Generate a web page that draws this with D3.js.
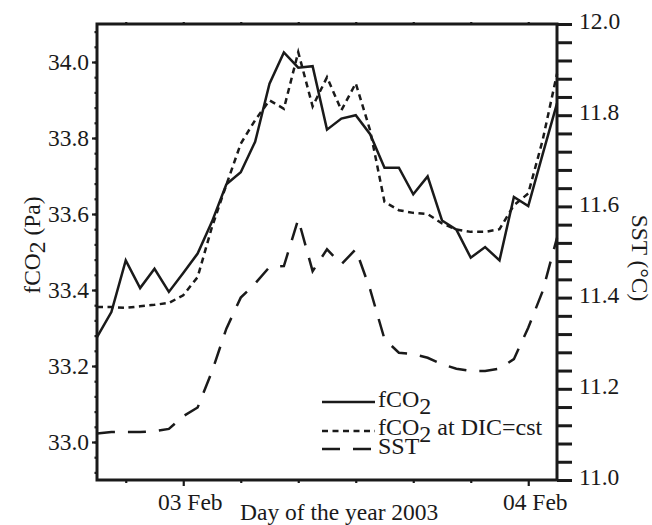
<!DOCTYPE html>
<html><head><meta charset="utf-8">
<script src="https://cdn.jsdelivr.net/npm/d3@7"></script>
<style>
html,body{margin:0;padding:0;background:#fff;}
svg, svg text, svg tspan{font-family:"Liberation Serif","Times New Roman",serif !important;}
svg text{fill:#1a1a1a;}
</style></head><body>
<svg id="chart" width="652" height="525" font-family="Liberation Serif, serif"></svg>
<script>
// ---- data (hourly samples, 2 Feb 18:00 to 4 Feb 02:00, 2003) ----
const times = [
 "2003-02-02T18:00","2003-02-02T19:00","2003-02-02T20:00","2003-02-02T21:00","2003-02-02T22:00","2003-02-02T23:00",
 "2003-02-03T00:00","2003-02-03T01:00","2003-02-03T02:00","2003-02-03T03:00","2003-02-03T04:00","2003-02-03T05:00",
 "2003-02-03T06:00","2003-02-03T07:00","2003-02-03T08:00","2003-02-03T09:00","2003-02-03T10:00","2003-02-03T11:00",
 "2003-02-03T12:00","2003-02-03T13:00","2003-02-03T14:00","2003-02-03T15:00","2003-02-03T16:00","2003-02-03T17:00",
 "2003-02-03T18:00","2003-02-03T19:00","2003-02-03T20:00","2003-02-03T21:00","2003-02-03T22:00","2003-02-03T23:00",
 "2003-02-04T00:00","2003-02-04T01:00","2003-02-04T02:00"];
const fco2 = [33.276,33.342,33.478,33.405,33.456,33.395,33.445,33.496,33.580,33.678,33.710,33.790,
 33.943,34.025,33.985,33.989,33.822,33.851,33.860,33.810,33.722,33.722,33.652,33.699,
 33.583,33.559,33.485,33.513,33.478,33.645,33.621,33.757,33.891];
const fco2Dic = [33.355,33.355,33.353,33.357,33.361,33.366,33.386,33.434,33.566,33.677,33.785,33.847,
 33.899,33.877,34.026,33.883,33.960,33.873,33.944,33.820,33.632,33.610,33.603,33.600,
 33.575,33.559,33.553,33.553,33.560,33.623,33.654,33.794,33.969];
const sst = [11.102,11.105,11.105,11.105,11.107,11.112,11.140,11.159,11.238,11.332,11.400,11.431,
 11.467,11.469,11.572,11.458,11.506,11.473,11.506,11.418,11.309,11.279,11.276,11.268,
 11.254,11.244,11.239,11.239,11.244,11.265,11.334,11.414,11.531];
const leftTickLabels = ["33.0","33.2","33.4","33.6","33.8","34.0"];
const rightTickLabels = ["11.0","11.2","11.4","11.6","11.8","12.0"];
const xTickDates = ["2003-02-03T00:00","2003-02-04T00:00"];
const xTickLabels = ["03 Feb","04 Feb"];
const xDomain = ["2003-02-02T18:00","2003-02-04T02:00"];
const leftDomain = [32.9, 34.1];
const rightDomain = [11.0, 12.0];

// ---- layout ----
const FONT = "'Liberation Serif', 'Times New Roman', serif";
const L = 97, R = 557, T = 24, B = 480;
const svg = d3.select("#chart");
const parse = d3.timeParse("%Y-%m-%dT%H:%M");
const x = d3.scaleTime().domain(xDomain.map(parse)).range([L, R]);
const yL = d3.scaleLinear().domain(leftDomain).range([B, T]);
const yR = d3.scaleLinear().domain(rightDomain).range([B, T]);
const rows = times.map((t, i) => ({t: parse(t), a: fco2[i], b: fco2Dic[i], s: sst[i]}));
const FS = 23.5;

// ---- left axis ----
const leftMinor = d3.range(32.92, 34.09, 0.04);
const gLm = svg.append("g").attr("transform", `translate(${L},0)`)
  .call(d3.axisLeft(yL).tickValues(leftMinor).tickSize(2.5).tickFormat(""));
const gL = svg.append("g").attr("transform", `translate(${L},0)`)
  .call(d3.axisLeft(yL).tickValues(leftTickLabels.map(Number)).tickSize(5)
    .tickFormat((d, i) => leftTickLabels[i]).tickPadding(3));
gL.selectAll("text").attr("font-size", FS).attr("dy", "0.33em");
[gL, gLm].forEach(g => { g.select(".domain").remove(); g.selectAll("line").attr("stroke", "#1a1a1a").attr("stroke-width", 2.2); });

// ---- right axis ----
const rightAll = d3.range(0, 26).map(i => 11 + i * 0.04);
const gR = svg.append("g").attr("transform", `translate(${R},0)`)
  .call(d3.axisRight(yR).tickValues(rightAll).tickSize(15).tickPadding(7)
    .tickFormat(d => { const k = rightTickLabels.indexOf(d.toFixed(1)); return (Math.abs(d * 5 - Math.round(d * 5)) < 1e-6 && k >= 0) ? rightTickLabels[k] : ""; }));
gR.select(".domain").remove();
gR.selectAll("line").attr("stroke", "#1a1a1a").attr("stroke-width", 3);
gR.selectAll("text").attr("font-size", FS).attr("dy", "0.2em");

// ---- bottom / top axes ----
const xTicks = x.ticks(d3.timeHour.every(4));
const majorSet = xTickDates.map(s => +parse(s));
const gB = svg.append("g").attr("transform", `translate(0,${B})`)
  .call(d3.axisBottom(x).tickValues(xTicks).tickSize(3).tickFormat(""));
gB.selectAll(".tick line").attr("y2", d => majorSet.includes(+d) ? 6 : 3);
const gBl = svg.append("g").attr("transform", `translate(0,${B})`)
  .call(d3.axisBottom(x).tickValues(xTickDates.map(parse)).tickSize(0)
    .tickFormat((d, i) => xTickLabels[i]));
gBl.selectAll("text").attr("font-size", FS).attr("y", 30).attr("dy", 0).attr("dx", 6.5);
const gT = svg.append("g").attr("transform", `translate(0,${T})`)
  .call(d3.axisTop(x).tickValues(xTicks).tickSize(2).tickFormat(""));
[gB, gBl, gT].forEach(g => { g.select(".domain").remove(); g.selectAll("line").attr("stroke", "#1a1a1a").attr("stroke-width", 2.2); });
[gL, gLm, gR, gB, gBl, gT].forEach(g => g.attr("font-family", FONT));

// ---- frame ----
svg.append("rect").attr("x", L).attr("y", T).attr("width", R - L).attr("height", B - T)
  .attr("fill", "none").attr("stroke", "#1a1a1a").attr("stroke-width", 3);

// ---- series ----
const lineA = d3.line().x(d => x(d.t)).y(d => yL(d.a));
const lineB = d3.line().x(d => x(d.t)).y(d => yL(d.b));
const lineS = d3.line().x(d => x(d.t)).y(d => yR(d.s));
const styles = [
  {gen: lineS, dash: "18,13"},
  {gen: lineB, dash: "6,4.5"},
  {gen: lineA, dash: null}
];
styles.forEach(s => {
  svg.append("path").datum(rows).attr("d", s.gen)
    .attr("fill", "none").attr("stroke", "#1a1a1a").attr("stroke-width", 2.5)
    .attr("stroke-dasharray", s.dash).attr("stroke-linejoin", "miter");
});

// ---- legend ----
const legend = [
  {y: 402, ty: 407, dash: null, main: "fCO", sub: "2", rest: ""},
  {y: 431, ty: 435, dash: "6,4.5", main: "fCO", sub: "2", rest: " at DIC=cst"},
  {y: 449, ty: 454, dash: "18,13", main: "SST", sub: "", rest: ""}
];
legend.forEach(d => {
  svg.append("line").attr("x1", 322).attr("x2", 375).attr("y1", d.y).attr("y2", d.y)
    .attr("stroke", "#1a1a1a").attr("stroke-width", 2.5).attr("stroke-dasharray", d.dash);
  const t = svg.append("text").attr("x", 378).attr("y", d.ty).attr("font-size", 24);
  t.append("tspan").text(d.main);
  if (d.sub) t.append("tspan").attr("dy", 7).text(d.sub);
  if (d.rest) t.append("tspan").attr("dy", -7).text(d.rest);
});

// ---- axis titles ----
svg.append("text").attr("x", 240).attr("y", 520).attr("font-size", FS).text("Day of the year 2003");
const lt = svg.append("text").attr("transform", "translate(40,245) rotate(-90)")
  .attr("text-anchor", "middle").attr("font-size", FS);
lt.append("tspan").text("fCO");
lt.append("tspan").attr("dy", 5).text("2");
lt.append("tspan").attr("dy", -5).text(" (Pa)");
svg.append("text").attr("transform", "translate(632,258) rotate(90)")
  .attr("text-anchor", "middle").attr("font-size", FS).text("SST (°C)");

svg.selectAll("text").style("font-family", FONT);
</script>
</body></html>
